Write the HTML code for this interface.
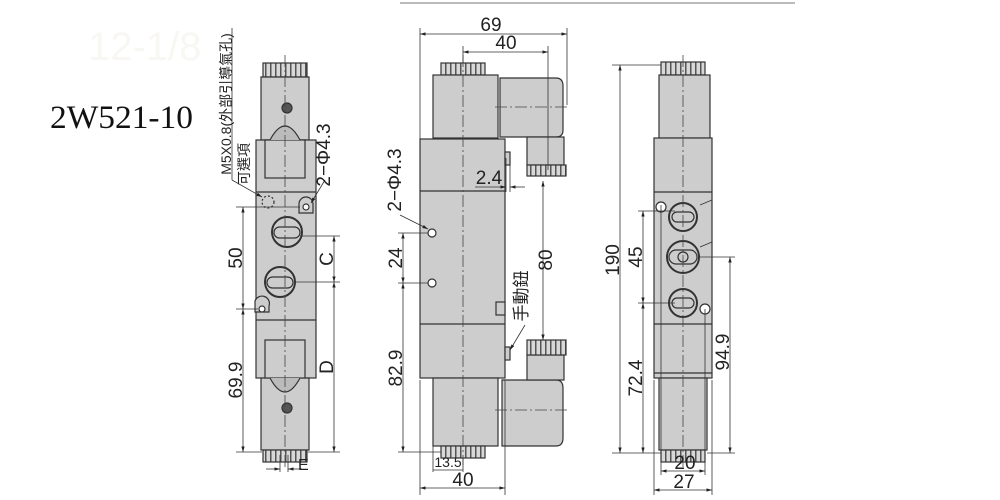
<!DOCTYPE html>
<html><head><meta charset="utf-8"><style>
html,body{margin:0;padding:0;background:#fff;width:1000px;height:500px;overflow:hidden}
svg{display:block}
text{font-family:"Liberation Sans","Noto Sans CJK TC",sans-serif;fill:#222}
</style></head><body>
<svg width="1000" height="500" viewBox="0 0 1000 500" xmlns="http://www.w3.org/2000/svg">
<defs>
<marker id="a" viewBox="0 0 10 10" refX="10" refY="5" markerWidth="7" markerHeight="7" orient="auto-start-reverse"><path d="M0,2 L10,5 L0,8z" fill="#222"/></marker>
<pattern id="nut" width="5" height="12" patternUnits="userSpaceOnUse"><rect width="5" height="12" fill="#d8d8d8"/><rect width="1.5" height="12" fill="#555"/></pattern>
</defs>
<line x1="400" y1="3" x2="795" y2="3" stroke="#bbb" stroke-width="2"/>
<text x="88" y="60" font-size="40" style="fill:#f8f7f4" font-family="Liberation Serif">12-1/8</text>
<text x="50" y="128" font-size="33" textLength="143" lengthAdjust="spacingAndGlyphs" style="font-family:'Liberation Serif',serif;fill:#111">2W521-10</text>

<g stroke="#333" stroke-width="1.2" fill="#cdcdcd">
<rect x="263" y="63" width="44" height="14" fill="url(#nut)"/>
<path d="M261,77 H309 V140 H261Z"/>
<rect x="256" y="140" width="60" height="238"/>
<rect x="265" y="140" width="40" height="38"/>
<path d="M270,140 Q285,112 300,140" fill="#bbb"/>
<rect x="261" y="378" width="48" height="72"/>
<rect x="265" y="340" width="40" height="38"/>
<path d="M270,378 Q285,406 300,378" fill="#bbb"/>
<rect x="263" y="450" width="44" height="12" fill="url(#nut)"/>
<line x1="256" y1="192" x2="316" y2="192"/>
<line x1="256" y1="320" x2="316" y2="320"/>
<circle cx="287" cy="108" r="5" fill="#555"/>
<circle cx="287" cy="408" r="5" fill="#555"/>
<circle cx="268" cy="202" r="6" fill="none" stroke-dasharray="2 2"/>
<path d="M299,213 V204 A7,7 0 0 1 313,204 V213Z"/><circle cx="306" cy="207" r="3" fill="#fff"/>
<path d="M255,301 V312 H269 V306 A7,7 0 0 0 255,301Z"/><circle cx="262" cy="309" r="3" fill="#fff"/>
<circle cx="287" cy="232" r="15" fill="none" stroke-width="2"/>
<rect x="274" y="227" width="26" height="11" rx="5.5" fill="none"/>
<circle cx="280" cy="282" r="15" fill="none" stroke-width="2"/>
<rect x="267" y="277" width="26" height="11" rx="5.5" fill="none"/>

<rect x="441" y="63" width="44" height="12" fill="url(#nut)"/>
<rect x="433" y="75" width="65" height="63"/>
<path d="M500,78 H556 Q563,78 563,86 V130 Q563,137 556,137 H500Z"/>
<rect x="527" y="137" width="37" height="28"/>
<rect x="527" y="165" width="39" height="11" fill="url(#nut)"/>
<rect x="420" y="139" width="85" height="239"/>
<line x1="420" y1="191" x2="505" y2="191"/>
<line x1="420" y1="324" x2="505" y2="324"/>
<rect x="505" y="152" width="5" height="13"/>
<rect x="496" y="302" width="9" height="13"/>
<rect x="505" y="347" width="5" height="13"/>
<rect x="433" y="378" width="65" height="68"/>
<path d="M502,380 H556 Q563,380 563,388 V438 Q563,446 556,446 H502Z"/>
<rect x="527" y="355" width="37" height="25"/>
<rect x="527" y="340" width="39" height="15" fill="url(#nut)"/>
<rect x="441" y="446" width="44" height="12" fill="url(#nut)"/>
<circle cx="432" cy="233" r="4" fill="#fff"/>
<circle cx="432" cy="283" r="4" fill="#fff"/>

<rect x="661" y="62" width="44" height="13" fill="url(#nut)"/>
<rect x="659" y="75" width="51" height="63"/>
<rect x="654" y="138" width="58" height="240"/>
<line x1="654" y1="192" x2="712" y2="192"/>
<line x1="654" y1="324" x2="712" y2="324"/>
<line x1="654" y1="373" x2="712" y2="373"/>
<rect x="659" y="378" width="48" height="72"/>
<rect x="661" y="450" width="44" height="12" fill="url(#nut)"/>
<circle cx="683" cy="217" r="14" fill="none" stroke-width="2"/>
<rect x="672" y="212" width="22" height="10" rx="5" fill="none"/>
<circle cx="683" cy="257" r="16" fill="none" stroke-width="2"/>
<rect x="669" y="250" width="28" height="14" rx="7" fill="none"/>
<circle cx="683" cy="257" r="5" fill="none"/>
<circle cx="683" cy="303" r="14" fill="none" stroke-width="2"/>
<rect x="672" y="298" width="22" height="10" rx="5" fill="none"/>
<circle cx="661" cy="207" r="5" fill="#fff"/>
<circle cx="705" cy="309" r="5" fill="#fff"/>
</g>

<g stroke="#444" stroke-width="0.8" stroke-dasharray="12 3 2 3" fill="none">
<line x1="285" y1="55" x2="285" y2="470"/>
<line x1="463" y1="55" x2="463" y2="465"/>
<line x1="683" y1="55" x2="683" y2="470"/>
<line x1="495" y1="107" x2="570" y2="107"/>
<line x1="495" y1="410" x2="570" y2="410"/>
</g>

<g stroke="#333" stroke-width="0.8" fill="none">
<line x1="236" y1="207" x2="300" y2="207"/>
<line x1="236" y1="309" x2="258" y2="309"/>
<line x1="236" y1="452" x2="262" y2="452"/>
<line x1="243" y1="207" x2="243" y2="309" marker-start="url(#a)" marker-end="url(#a)"/>
<line x1="243" y1="309" x2="243" y2="452" marker-start="url(#a)" marker-end="url(#a)"/>
<line x1="300" y1="236" x2="340" y2="236"/>
<line x1="295" y1="282" x2="340" y2="282"/>
<line x1="308" y1="452" x2="340" y2="452"/>
<line x1="334" y1="236" x2="334" y2="282" marker-start="url(#a)" marker-end="url(#a)"/>
<line x1="334" y1="282" x2="334" y2="452" marker-start="url(#a)" marker-end="url(#a)"/>
<line x1="280" y1="455" x2="280" y2="472"/><line x1="288" y1="455" x2="288" y2="472"/>
<line x1="266" y1="469" x2="280" y2="469" marker-end="url(#a)"/>
<line x1="302" y1="469" x2="288" y2="469" marker-end="url(#a)"/>
<line x1="232" y1="28" x2="232" y2="180"/>
<line x1="232" y1="180" x2="262" y2="197" marker-end="url(#a)"/>
<line x1="325" y1="180" x2="311" y2="203" marker-end="url(#a)"/>
<line x1="420" y1="28" x2="420" y2="139"/>
<line x1="567" y1="28" x2="567" y2="105"/>
<line x1="420" y1="34" x2="567" y2="34" marker-start="url(#a)" marker-end="url(#a)"/>
<line x1="463" y1="46" x2="463" y2="63"/>
<line x1="548" y1="46" x2="548" y2="170"/>
<line x1="463" y1="52" x2="548" y2="52" marker-start="url(#a)" marker-end="url(#a)"/>
<line x1="543" y1="181" x2="543" y2="340" marker-start="url(#a)" marker-end="url(#a)"/>
<line x1="398" y1="233" x2="428" y2="233"/>
<line x1="398" y1="283" x2="428" y2="283"/>
<line x1="398" y1="452" x2="441" y2="452"/>
<line x1="403" y1="233" x2="403" y2="283" marker-start="url(#a)" marker-end="url(#a)"/>
<line x1="403" y1="283" x2="403" y2="452" marker-start="url(#a)" marker-end="url(#a)"/>
<line x1="420" y1="380" x2="420" y2="495"/>
<line x1="505" y1="380" x2="505" y2="495"/>
<line x1="433" y1="446" x2="433" y2="472"/>
<line x1="463" y1="458" x2="463" y2="472"/>
<line x1="420" y1="488" x2="505" y2="488" marker-start="url(#a)" marker-end="url(#a)"/>
<line x1="433" y1="470" x2="463" y2="470"/>
<line x1="506" y1="158" x2="506" y2="192"/><line x1="510" y1="158" x2="510" y2="192"/>
<line x1="475" y1="187" x2="506" y2="187" marker-end="url(#a)"/>
<line x1="525" y1="187" x2="510" y2="187" marker-end="url(#a)"/>
<line x1="400" y1="215" x2="428" y2="229" marker-end="url(#a)"/>
<line x1="525" y1="325" x2="510" y2="350" marker-end="url(#a)"/>
<line x1="612" y1="65" x2="661" y2="65"/>
<line x1="612" y1="453" x2="661" y2="453"/>
<line x1="620" y1="65" x2="620" y2="453" marker-start="url(#a)" marker-end="url(#a)"/>
<line x1="638" y1="211" x2="675" y2="211"/>
<line x1="638" y1="303" x2="675" y2="303"/>
<line x1="643" y1="211" x2="643" y2="303" marker-start="url(#a)" marker-end="url(#a)"/>
<line x1="643" y1="303" x2="643" y2="453" marker-start="url(#a)" marker-end="url(#a)"/>
<line x1="700" y1="257" x2="735" y2="257"/>
<line x1="707" y1="453" x2="735" y2="453"/>
<line x1="730" y1="257" x2="730" y2="453" marker-start="url(#a)" marker-end="url(#a)"/>
<line x1="661" y1="205" x2="661" y2="475"/>
<line x1="705" y1="309" x2="705" y2="475"/>
<line x1="654" y1="380" x2="654" y2="495"/>
<line x1="712" y1="380" x2="712" y2="495"/>
<line x1="661" y1="471" x2="705" y2="471" marker-start="url(#a)" marker-end="url(#a)"/>
<line x1="654" y1="490" x2="712" y2="490" marker-start="url(#a)" marker-end="url(#a)"/>
<line x1="700" y1="205" x2="712" y2="200"/>
<line x1="700" y1="247" x2="712" y2="242"/>
</g>

<g font-size="19">
<text transform="translate(242,258) rotate(-90)" text-anchor="middle">50</text>
<text transform="translate(242,380) rotate(-90)" text-anchor="middle">69.9</text>
<text transform="translate(333,259) rotate(-90)" text-anchor="middle">C</text>
<text transform="translate(333,367) rotate(-90)" text-anchor="middle">D</text>
<text x="298" y="470" font-size="16">E</text>
<text transform="translate(330,155) rotate(-90)" text-anchor="middle">2−Φ4.3</text>
<text transform="translate(231,104) rotate(-90)" text-anchor="middle" font-size="14" fill="#444">M5X0.8(外部引導氣孔)</text>
<text transform="translate(249,164) rotate(-90)" text-anchor="middle" font-size="14" fill="#444">可選項</text>
<text x="491" y="31" text-anchor="middle">69</text>
<text x="506" y="49" text-anchor="middle">40</text>
<text x="489" y="184" text-anchor="middle">2.4</text>
<text transform="translate(552,260) rotate(-90)" text-anchor="middle">80</text>
<text transform="translate(402,258) rotate(-90)" text-anchor="middle">24</text>
<text transform="translate(402,368) rotate(-90)" text-anchor="middle">82.9</text>
<text transform="translate(401,180) rotate(-90)" text-anchor="middle">2−Φ4.3</text>
<text transform="translate(527,296) rotate(-90)" text-anchor="middle" font-size="17">手動鈕</text>
<text x="448" y="467" text-anchor="middle" font-size="14">13.5</text>
<text x="463" y="486" text-anchor="middle">40</text>
<text transform="translate(619,260) rotate(-90)" text-anchor="middle">190</text>
<text transform="translate(642,257) rotate(-90)" text-anchor="middle">45</text>
<text transform="translate(642,378) rotate(-90)" text-anchor="middle">72.4</text>
<text transform="translate(729,352) rotate(-90)" text-anchor="middle">94.9</text>
<text x="685" y="469" text-anchor="middle">20</text>
<text x="684" y="488" text-anchor="middle">27</text>
</g>
</svg>
</body></html>
